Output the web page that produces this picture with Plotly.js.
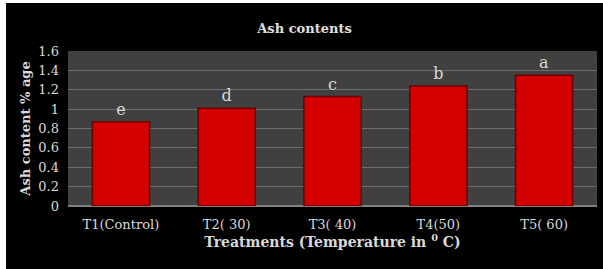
<!DOCTYPE html>
<html><head><meta charset="utf-8">
<script src="https://cdn.plot.ly/plotly-3.0.1.min.js"></script>
<style>html,body{margin:0;padding:0;background:#fff;}#chart{position:absolute;left:6px;top:3px;width:597px;height:266px;}</style>
</head><body><div id="chart"></div>
<script>
const categories = ["T1(Control)", "T2( 30)", "T3( 40)", "T4(50)", "T5( 60)"];
const ashValues = [0.87, 1.01, 1.13, 1.24, 1.35];
const letters = ["e", "d", "c", "b", "a"];
const yTicks = [0, 0.2, 0.4, 0.6, 0.8, 1, 1.2, 1.4, 1.6];

const font = "Century Schoolbook, 'DejaVu Serif', 'Liberation Serif', serif";
Plotly.newPlot('chart', [{
  type: 'bar', x: categories, y: ashValues,
  text: letters, textposition: 'outside', cliponaxis: false,
  textfont: {family: font, size: 16, color: '#d9d9d9'},
  marker: {color: '#d40000', line: {color: '#6a0000', width: 1.5}},
  hoverinfo: 'none'
}], {
  width: 597, height: 266,
  paper_bgcolor: '#000', plot_bgcolor: '#404040',
  margin: {l: 62, r: 6, t: 48, b: 63},
  bargap: 0.46,
  showlegend: false,
  title: {text: '<b>Ash contents</b>', font: {family: font, size: 13, color: '#e0e0e0'}, x: 0.5, xanchor: 'center', y: 0.905, yanchor: 'middle'},
  xaxis: {
    tickfont: {family: font, size: 13, color: '#d9d9d9'},
    ticklabelstandoff: 9,
    title: {text: '<b>Treatments (Temperature in <sup>0</sup> C)</b>', font: {family: font, size: 14, color: '#d9d9d9'}, standoff: 4},
    showgrid: false, ticks: '', showline: false
  },
  yaxis: {
    range: [0, 1.6], tickvals: yTicks, ticktext: yTicks.map(String),
    tickfont: {family: font, size: 13, color: '#d9d9d9'},
    ticklabelstandoff: 8,
    title: {text: '<b>Ash content % age</b>', font: {family: font, size: 13, color: '#d9d9d9'}, standoff: 4},
    gridcolor: '#6e6e6e', gridwidth: 1.2, zeroline: true, zerolinecolor: '#808080', zerolinewidth: 1.5,
    ticks: '', showline: false
  }
}, {displayModeBar: false, staticPlot: true});
</script></body></html>
